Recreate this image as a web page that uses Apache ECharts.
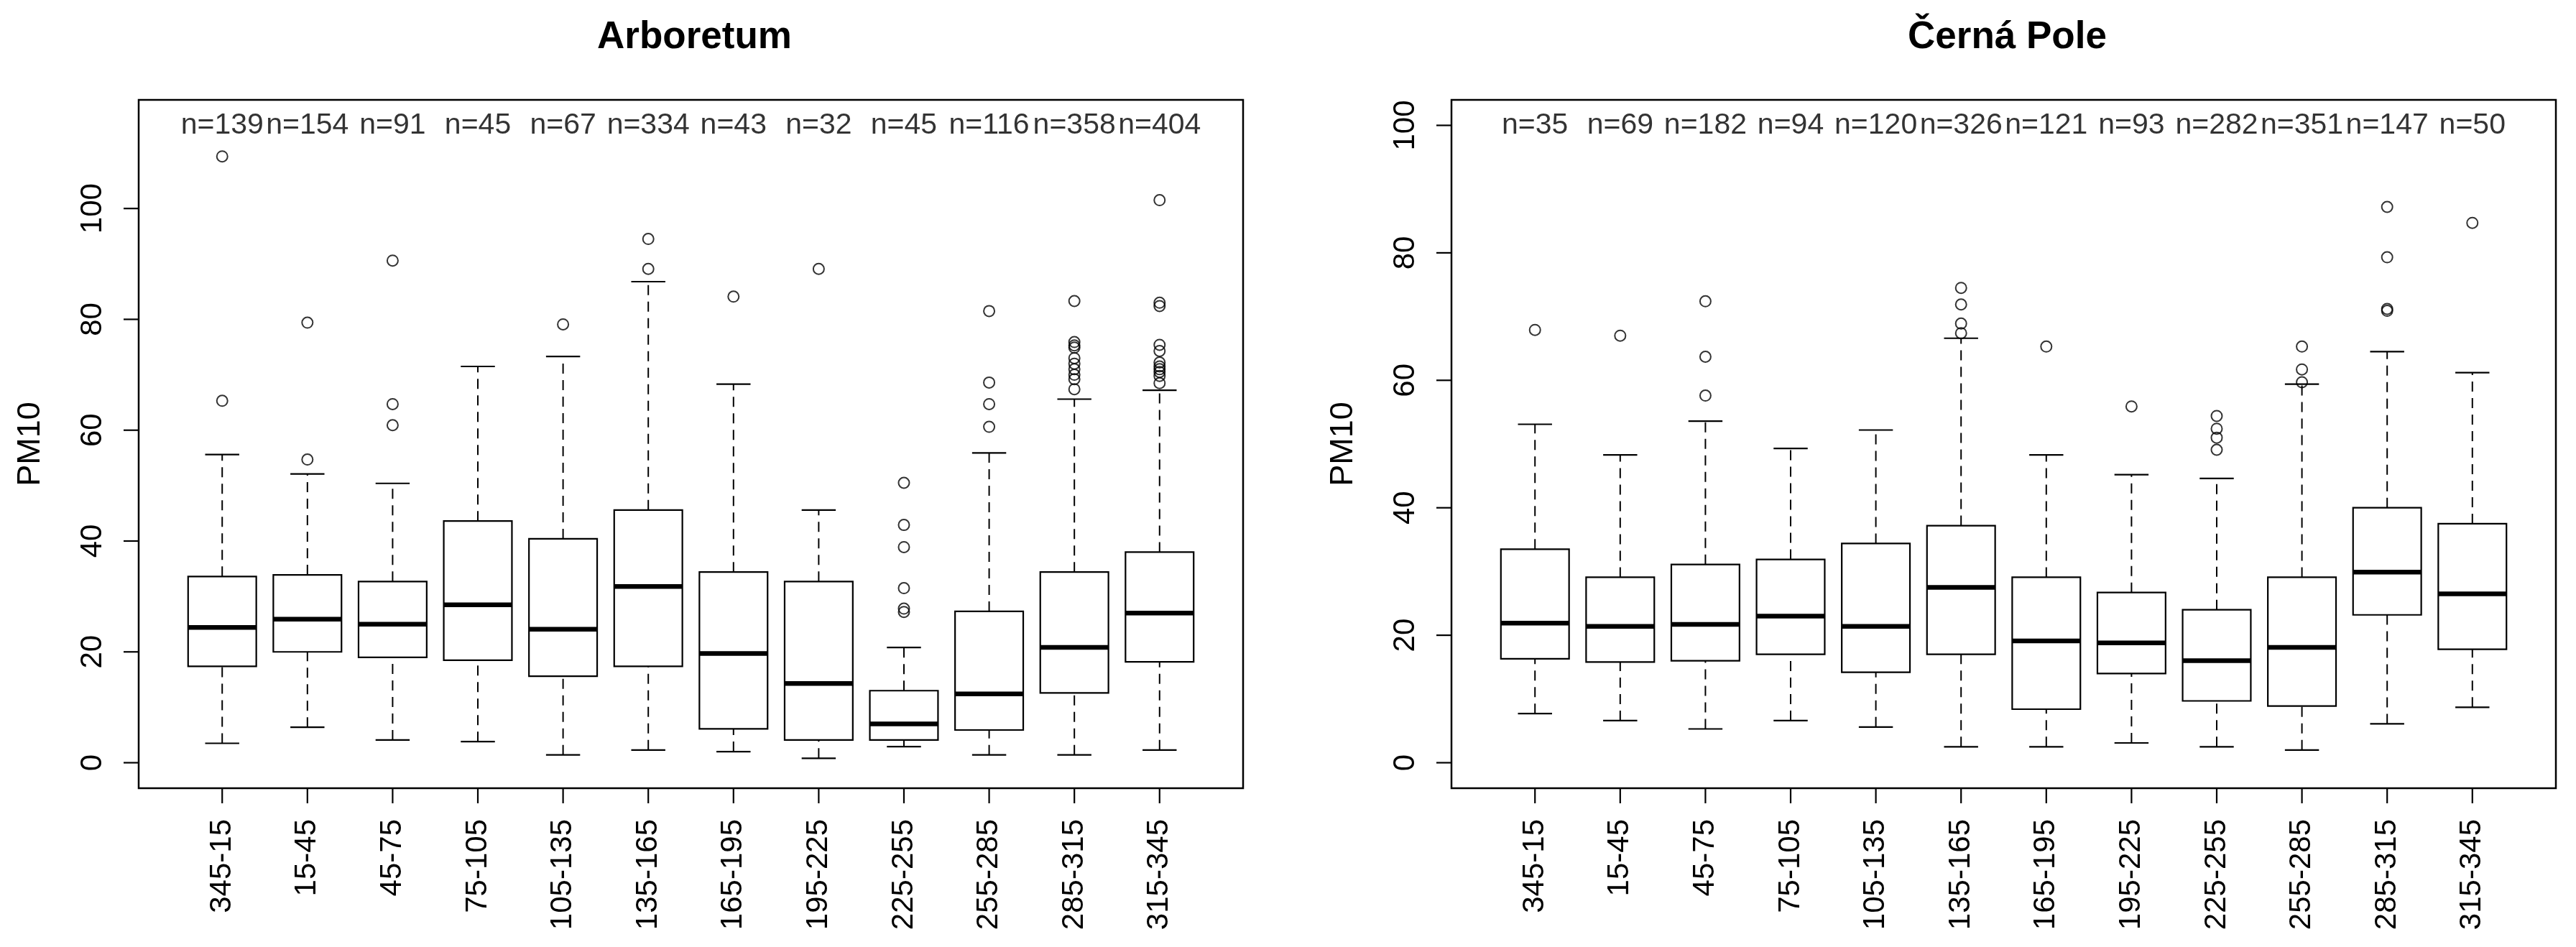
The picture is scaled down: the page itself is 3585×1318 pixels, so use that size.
<!DOCTYPE html>
<html>
<head>
<meta charset="utf-8">
<script src="https://cdn.jsdelivr.net/npm/echarts@6/dist/echarts.min.js"></script>
<style>html,body{margin:0;padding:0;background:#fff;}#c{width:3585px;height:1318px;}</style>
</head>
<body>
<div id="c"></div>
<script>
const categories = ['345-15','15-45','45-75','75-105','105-135','135-165','165-195','195-225','225-255','255-285','285-315','315-345'];
const yTicks = [0, 20, 40, 60, 80, 100];

// Arboretum
const arbTitle = 'Arboretum';
const arbYlim = [0, 115];
const arbLow  = [3.5, 6.4, 4.1, 3.8, 1.4, 2.3, 2.0, 0.8, 2.9, 1.4, 1.4, 2.3];
const arbQ1   = [17.4, 20.0, 19.0, 18.5, 15.6, 17.4, 6.1, 4.1, 4.1, 5.9, 12.6, 18.2];
const arbMed  = [24.4, 25.9, 25.0, 28.5, 24.1, 31.8, 19.7, 14.3, 7.0, 12.4, 20.8, 27.0];
const arbQ3   = [33.6, 33.9, 32.7, 43.6, 40.4, 45.6, 34.4, 32.7, 13.0, 27.3, 34.4, 38.0];
const arbHigh = [55.6, 52.1, 50.4, 71.5, 73.3, 86.8, 68.3, 45.6, 20.8, 55.9, 65.6, 67.2];
const arbN    = [139, 154, 91, 45, 67, 334, 43, 32, 45, 116, 358, 404];
const arbOut  = [[109.4, 65.3], [79.4, 54.7], [90.6, 64.7, 60.9], [], [79.1], [94.5, 89.1], [84.1], [89.1],
  [50.5, 42.9, 38.9, 31.5, 27.8, 27.2], [81.5, 68.6, 64.7, 60.6],
  [83.3, 75.9, 75.3, 74.9, 73.0, 72.0, 71.0, 70.0, 69.2, 67.4],
  [101.5, 83.0, 82.4, 75.4, 74.3, 72.2, 71.5, 71.0, 70.5, 69.8, 68.5]];

// Černá Pole
const cpTitle = 'Černá Pole';
const cpYlim = [0, 100];
const cpLow  = [7.7, 6.6, 5.3, 6.6, 5.6, 2.5, 2.5, 3.1, 2.5, 2.0, 6.1, 8.7];
const cpQ1   = [16.3, 15.8, 16.0, 17.0, 14.2, 17.0, 8.4, 14.0, 9.7, 8.9, 23.2, 17.8];
const cpMed  = [21.9, 21.4, 21.7, 23.0, 21.4, 27.5, 19.1, 18.8, 16.0, 18.1, 29.9, 26.5];
const cpQ3   = [33.5, 29.1, 31.1, 31.9, 34.4, 37.2, 29.1, 26.7, 24.0, 29.1, 40.0, 37.5];
const cpHigh = [53.1, 48.3, 53.6, 49.3, 52.2, 66.6, 48.3, 45.2, 44.6, 59.4, 64.5, 61.2];
const cpN    = [35, 69, 182, 94, 120, 326, 121, 93, 282, 351, 147, 50];
const cpOut  = [[67.9], [67.0], [72.4, 63.7, 57.6], [], [], [74.5, 71.9, 68.9, 67.4], [65.3], [55.9],
  [54.4, 52.4, 51.0, 49.1], [65.3, 61.7, 59.7], [87.2, 79.3, 71.2, 70.9], [84.7]];

const FONT = '"Liberation Sans", Arial, sans-serif';
const nCat = categories.length;
const xMin = 0.5 - 0.04 * nCat, xMax = nCat + 0.5 + 0.04 * nCat;
const catPos = categories.map((c, i) => i + 1);
const TICK = 21;

function ext(lim) { const d = lim[1] - lim[0]; return [lim[0] - 0.04 * d, lim[1] + 0.04 * d]; }

const panels = [
  {title: arbTitle, ylim: arbYlim, low: arbLow, q1: arbQ1, med: arbMed, q3: arbQ3, high: arbHigh, n: arbN, out: arbOut, left: 193},
  {title: cpTitle, ylim: cpYlim, low: cpLow, q1: cpQ1, med: cpMed, q3: cpQ3, high: cpHigh, n: cpN, out: cpOut, left: 2020}
];
const gridW = 1537, gridTop = 139, gridH = 958;

function renderBox(params, api) {
  const x = api.value(0);
  const lo = api.coord([x, api.value(1)]);
  const q1 = api.coord([x, api.value(2)]);
  const md = api.coord([x, api.value(3)]);
  const q3 = api.coord([x, api.value(4)]);
  const hi = api.coord([x, api.value(5)]);
  const hw = api.size([0.8, 0])[0] / 2;
  const sw = hw / 2;
  const cx = lo[0];
  const dash = {stroke: '#000', lineWidth: 2, lineDash: [14, 9], fill: null};
  const solid = {stroke: '#000', lineWidth: 2.2, fill: null};
  return {
    type: 'group',
    children: [
      {type: 'line', shape: {x1: cx, y1: q3[1], x2: cx, y2: hi[1]}, style: dash},
      {type: 'line', shape: {x1: cx, y1: lo[1], x2: cx, y2: q1[1]}, style: dash},
      {type: 'line', shape: {x1: cx - sw, y1: hi[1], x2: cx + sw, y2: hi[1]}, style: solid},
      {type: 'line', shape: {x1: cx - sw, y1: lo[1], x2: cx + sw, y2: lo[1]}, style: solid},
      {type: 'rect', shape: {x: cx - hw, y: q3[1], width: 2 * hw, height: q1[1] - q3[1]}, style: {stroke: '#000', lineWidth: 2.2, fill: 'rgba(0,0,0,0)'}},
      {type: 'line', shape: {x1: cx - hw, y1: md[1], x2: cx + hw, y2: md[1]}, style: {stroke: '#000', lineWidth: 6.5}}
    ]
  };
}

const axisLineStyle = {show: false, onZero: false};

const option = {
  backgroundColor: '#fff',
  animation: false,
  title: panels.map(p => ({
    text: p.title, left: p.left + gridW / 2, top: 21, textAlign: 'center',
    textStyle: {fontFamily: FONT, fontWeight: 'bold', fontSize: 53, color: '#000'}
  })),
  grid: panels.map(p => ({left: p.left, top: gridTop, width: gridW, height: gridH, show: true, borderColor: '#000', borderWidth: 2.5, backgroundColor: 'transparent'})),
  xAxis: panels.map((p, i) => ({
    type: 'value', gridIndex: i, min: xMin, max: xMax, position: 'bottom',
    splitLine: {show: false}, axisLine: axisLineStyle, axisTick: {show: false},
    axisLabel: {show: true, customValues: catPos, formatter: v => categories[Math.round(v) - 1], rotate: 90, margin: 43,
      fontFamily: FONT, fontSize: 42, color: '#000'}
  })),
  yAxis: panels.map((p, i) => {
    const e = ext(p.ylim);
    return {
      type: 'value', gridIndex: i, min: e[0], max: e[1], position: 'left',
      name: 'PM10', nameLocation: 'middle', nameRotate: 90, nameGap: 128,
      nameTextStyle: {fontFamily: FONT, fontSize: 45, color: '#000'},
      splitLine: {show: false}, axisLine: axisLineStyle, axisTick: {show: false},
      axisLabel: {show: true, customValues: yTicks, rotate: 90, margin: 43, fontFamily: FONT, fontSize: 42, color: '#000'}
    };
  }),
  series: []
};

panels.forEach((p, i) => {
  option.series.push({
    type: 'custom', xAxisIndex: i, yAxisIndex: i, clip: false,
    renderItem: renderBox,
    encode: {x: 0, y: [1, 2, 3, 4, 5]},
    data: categories.map((c, k) => [k + 1, p.low[k], p.q1[k], p.med[k], p.q3[k], p.high[k]]),
    z: 2
  });
  const outs = [];
  p.out.forEach((arr, k) => arr.forEach(v => outs.push([k + 1, v])));
  option.series.push({
    type: 'scatter', xAxisIndex: i, yAxisIndex: i, data: outs,
    symbol: 'circle', symbolSize: 15,
    itemStyle: {color: 'rgba(0,0,0,0)', borderColor: '#000', borderWidth: 2},
    z: 3
  });
  option.series.push({
    type: 'scatter', xAxisIndex: i, yAxisIndex: i,
    data: p.n.map((n, k) => [k + 1, p.ylim[1], n]),
    symbolSize: 0,
    label: {show: true, position: 'inside', formatter: d => 'n=' + d.value[2], fontFamily: FONT, fontSize: 41, color: '#000'},
    z: 4
  });
});

const chart = echarts.init(document.getElementById('c'), null, {renderer: 'canvas'});
chart.setOption(option);

// Axis tick marks placed through the chart's own scales
const tickEls = [];
panels.forEach((p, i) => {
  const e = ext(p.ylim);
  yTicks.forEach(v => {
    const pt = chart.convertToPixel({gridIndex: i}, [xMin, v]);
    tickEls.push({type: 'line', z: 100, silent: true,
      shape: {x1: pt[0] - TICK, y1: pt[1], x2: pt[0], y2: pt[1]},
      style: {stroke: '#000', lineWidth: 2.2}});
  });
  catPos.forEach(v => {
    const pt = chart.convertToPixel({gridIndex: i}, [v, e[0]]);
    tickEls.push({type: 'line', z: 100, silent: true,
      shape: {x1: pt[0], y1: pt[1], x2: pt[0], y2: pt[1] + TICK},
      style: {stroke: '#000', lineWidth: 2.2}});
  });
});
chart.setOption({graphic: {elements: tickEls}});
</script>
</body>
</html>
